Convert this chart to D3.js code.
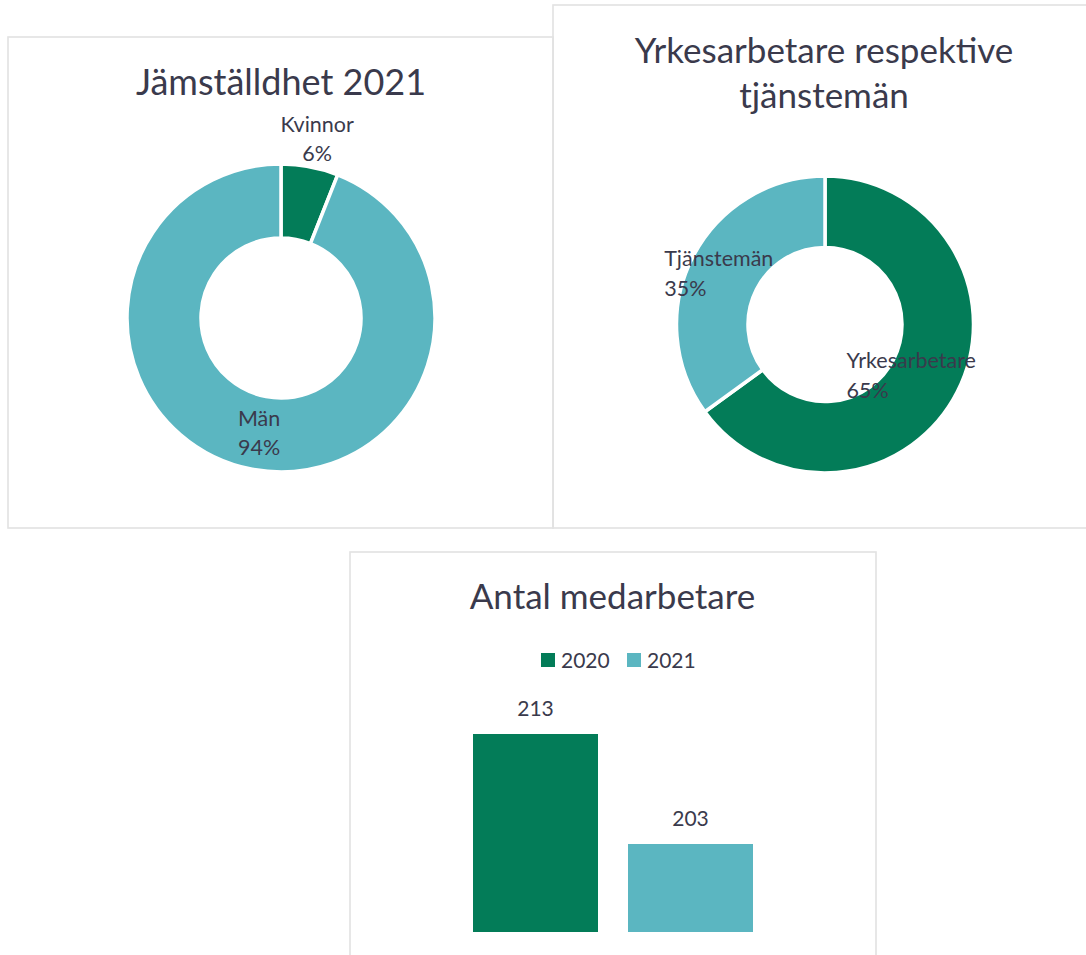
<!DOCTYPE html>
<html>
<head>
<meta charset="utf-8">
<script src="https://cdn.jsdelivr.net/npm/d3@7"></script>
<style>
  html, body { margin: 0; padding: 0; background: #ffffff; }
  svg { display: block; }
  text { font-family: Lato, "Noto Sans", sans-serif; fill: #3a3a4c; }
</style>
</head>
<body>
<svg id="chart" width="1086" height="955"></svg>
<script>
// ---- data ----
const genderTitle = "Jämställdhet 2021";
const genderCats = ["Kvinnor", "Män"];
const genderVals = [6, 94];

const roleTitle = ["Yrkesarbetare respektive", "tjänstemän"];
const roleCats = ["Yrkesarbetare", "Tjänstemän"];
const roleVals = [65, 35];

const staffTitle = "Antal medarbetare";
const years = ["2020", "2021"];
const staff = [213, 203];

// ---- styles ----
const GREEN = "#037c58";
const TEAL = "#5bb6c1";
const BORDER = "#e2e2e2";

const svg = d3.select("#chart");
svg.append("rect").attr("width", 1086).attr("height", 955).attr("fill", "#fff");

// panel frames
const frames = [
  {x: 8, y: 37, w: 545, h: 491},
  {x: 553, y: 5, w: 600, h: 523},
  {x: 350, y: 552, w: 526, h: 500}
];
svg.selectAll("rect.frame").data(frames).join("rect")
  .attr("class", "frame")
  .attr("x", d => d.x).attr("y", d => d.y)
  .attr("width", d => d.w).attr("height", d => d.h)
  .attr("fill", "none").attr("stroke", BORDER).attr("stroke-width", 1.6);

// ---- donut helper ----
function donut(opts) {
  const g = svg.append("g").attr("transform", `translate(${opts.cx},${opts.cy})`);
  const data = opts.cats.map((c, i) => ({cat: c, value: opts.vals[i]}));
  const pie = d3.pie().sort(null).value(d => d.value);
  const arcs = pie(data);
  const arc = d3.arc().innerRadius(opts.ri).outerRadius(opts.ro);
  const color = d3.scaleOrdinal().domain(opts.cats).range(opts.colors);
  g.selectAll("path").data(arcs).join("path")
    .attr("d", arc)
    .attr("fill", d => color(d.data.cat))
    .attr("stroke", "#fff").attr("stroke-width", 3.5).attr("stroke-linejoin", "miter");

  arcs.forEach((a, i) => {
    const r = opts.labelR[i];
    const ang = (a.startAngle + a.endAngle) / 2;
    const lx = r * Math.sin(ang) + opts.labelDx[i];
    const ly = -r * Math.cos(ang);
    const t = g.append("text").style("font-size", opts.fontSize + "px");
    const lines = [a.data.cat, a.data.value + "%"];
    const tspans = lines.map((s, k) => t.append("tspan").text(s)
      .attr("y", ly - 7.3 + k * 29.5));
    if (opts.align === "middle") {
      t.attr("text-anchor", "middle");
      tspans.forEach(ts => ts.attr("x", lx));
    } else {
      const w = Math.max(...tspans.map(ts => ts.node().getComputedTextLength()));
      tspans.forEach(ts => ts.attr("x", lx - w / 2));
    }
  });
}

// ---- panel 1 ----
svg.append("text").attr("x", 281).attr("y", 95).attr("text-anchor", "middle")
  .style("font-size", "36px").text(genderTitle);
donut({cx: 281, cy: 318, ri: 80, ro: 154, cats: genderCats, vals: genderVals,
  colors: [GREEN, TEAL], labelR: [182, 117], labelDx: [2, 0], align: "middle", fontSize: 21.5});

// ---- panel 2 ----
const t2 = svg.append("text").attr("text-anchor", "middle").style("font-size", "35px");
roleTitle.forEach((s, k) => t2.append("tspan").attr("x", 824).attr("y", 63 + k * 45).text(s));
donut({cx: 825, cy: 324.5, ri: 77, ro: 148.5, cats: roleCats, vals: roleVals,
  colors: [GREEN, TEAL], labelR: [112.5, 112.5], labelDx: [-14, -6], align: "left", fontSize: 21.5});

// ---- panel 3 ----
svg.append("text").attr("x", 612.5).attr("y", 609).attr("text-anchor", "middle")
  .style("font-size", "35px").text(staffTitle);

const yearColor = d3.scaleOrdinal().domain(years).range([GREEN, TEAL]);

// legend
const legendX = [541, 627];
const lg = svg.append("g");
years.forEach((yr, i) => {
  lg.append("rect").attr("x", legendX[i]).attr("y", 653).attr("width", 14).attr("height", 14)
    .attr("fill", yearColor(yr));
  lg.append("text").attr("x", legendX[i] + 20).attr("y", 667.5)
    .style("font-size", "21px").text(yr);
});

const x = d3.scaleBand().domain(years).range([473, 753]).paddingInner(30 / 155).paddingOuter(0);
const y = d3.scaleLinear().domain([195, 215]).range([932, 712]);
const bars = svg.append("g");
bars.selectAll("rect").data(years).join("rect")
  .attr("x", d => x(d))
  .attr("width", x.bandwidth())
  .attr("y", (d, i) => y(staff[i]))
  .attr("height", (d, i) => y(195) - y(staff[i]))
  .attr("fill", d => yearColor(d));
bars.selectAll("text").data(years).join("text")
  .attr("x", d => x(d) + x.bandwidth() / 2)
  .attr("y", (d, i) => y(staff[i]) - 18)
  .attr("text-anchor", "middle")
  .style("font-size", "21px")
  .text((d, i) => staff[i]);
</script>
</body>
</html>
